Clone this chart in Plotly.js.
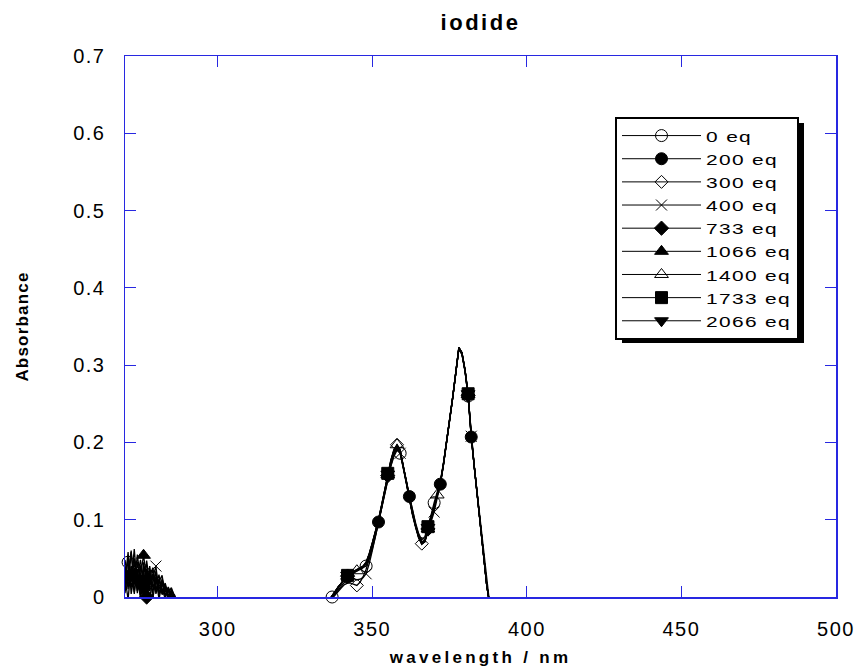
<!DOCTYPE html>
<html>
<head>
<meta charset="utf-8">
<script src="https://cdn.plot.ly/plotly-3.0.1.min.js"></script>
<style>
  html, body { margin: 0; padding: 0; background: #ffffff; }
  #chart { width: 858px; height: 668px; position: relative; }
  .legendtext { letter-spacing: 1px; transform: scaleX(1.35); transform-box: fill-box; transform-origin: left center; }
  .xtick text, .ytick text { letter-spacing: 1.5px; }
  .xtitle { letter-spacing: 3.3px; }
  .ytitle { letter-spacing: 1.2px; }
  .gtitle { letter-spacing: 2.5px; }
</style>
</head>
<body>
<div id="chart"></div>
<script>
// ---- data ----
var seriesNames = ["0 eq", "200 eq", "300 eq", "400 eq", "733 eq", "1066 eq", "1400 eq", "1733 eq", "2066 eq"];

// noisy short-wavelength region (nm)
var noiseWl = [270, 271, 272, 273, 274, 275, 276, 277, 278, 279, 280, 281, 282, 283, 284, 285, 286, 287];
var noise0    = [0.030, 0.045, 0.012, 0.038, 0.005, 0.041, 0.020, 0.033, -0.004, 0.028, 0.010, 0.022, 0.004, 0.015, -0.002, 0.010, 0.002, -0.010];
var noise200  = [0.015, 0.052, 0.028, 0.006, 0.046, 0.018, 0.035, 0.002, 0.040, 0.012, 0.026, -0.003, 0.018, 0.006, 0.012, -0.004, 0.003, -0.010];
var noise300  = [0.040, 0.010, 0.058, 0.022, 0.030, -0.002, 0.044, 0.016, 0.030, 0.005, 0.034, 0.010, 0.020, 0.000, 0.009, 0.004, -0.003, -0.010];
var noise400  = [0.005, 0.036, 0.020, 0.062, 0.014, 0.032, 0.008, 0.047, 0.018, 0.025, 0.040, 0.006, 0.015, 0.012, -0.003, 0.008, 0.000, -0.010];
var noise733  = [0.025, -0.003, 0.040, 0.016, 0.055, 0.022, 0.030, 0.000, 0.026, 0.038, 0.004, 0.020, 0.028, 0.002, 0.011, 0.001, -0.002, -0.010];
var noise1066 = [0.048, 0.020, 0.034, 0.050, 0.008, 0.028, 0.054, 0.024, 0.012, 0.036, 0.016, 0.029, 0.003, 0.014, 0.006, 0.012, 0.001, -0.010];
var noise1400 = [0.010, 0.030, 0.060, 0.004, 0.036, 0.012, 0.037, 0.041, 0.008, 0.020, 0.031, 0.002, 0.024, 0.010, 0.002, 0.006, -0.004, -0.010];
var noise1733 = [0.036, 0.014, 0.024, 0.044, 0.026, 0.048, 0.020, 0.010, 0.034, -0.002, 0.022, 0.016, 0.008, 0.018, 0.004, -0.001, 0.002, -0.010];
var noise2066 = [0.020, 0.058, 0.004, 0.030, 0.022, 0.002, 0.010, 0.036, 0.015, 0.030, 0.008, 0.024, 0.010, -0.002, 0.013, 0.003, -0.002, -0.010];

// absorption band region (nm)
var bandWl = [335, 336, 337, 338, 339, 340, 341, 342, 343, 344, 345, 346, 347, 348, 349, 350, 351, 352, 353, 354,
              355, 356, 357, 358, 359, 360, 361, 362, 363, 364, 365, 366, 367, 368, 369, 370, 371, 372, 373, 374,
              375, 376, 377, 378, 379, 380, 381, 382, 383, 384, 385, 386, 387, 388, 389];
var band0    = [-0.010,-0.003,0.000,0.007,0.013,0.018,0.023,0.027,0.030,0.032,0.034,0.036,0.038,0.040,0.050,0.064,0.080,0.096,0.114,0.134,0.152,0.169,0.182,0.190,0.186,0.170,0.151,0.130,0.112,0.096,0.082,0.074,0.078,0.091,0.106,0.122,0.137,0.150,0.173,0.199,0.228,0.258,0.290,0.321,0.314,0.292,0.260,0.207,0.168,0.131,0.093,0.055,0.017,-0.010,-0.020];
var band200  = [-0.010,-0.004,0.000,0.006,0.012,0.017,0.022,0.026,0.029,0.031,0.033,0.035,0.038,0.043,0.053,0.067,0.082,0.097,0.116,0.136,0.155,0.172,0.186,0.194,0.188,0.169,0.150,0.130,0.111,0.094,0.080,0.071,0.074,0.088,0.101,0.116,0.132,0.146,0.171,0.199,0.228,0.258,0.290,0.322,0.315,0.293,0.259,0.207,0.168,0.130,0.092,0.054,0.016,-0.010,-0.020];
var band300  = [-0.012,-0.006,-0.002,0.003,0.008,0.012,0.016,0.018,0.018,0.016,0.015,0.019,0.026,0.036,0.048,0.062,0.078,0.095,0.115,0.136,0.156,0.174,0.189,0.197,0.191,0.171,0.150,0.127,0.108,0.092,0.078,0.069,0.071,0.085,0.099,0.115,0.131,0.147,0.172,0.200,0.229,0.259,0.291,0.323,0.316,0.293,0.260,0.207,0.167,0.129,0.091,0.053,0.015,-0.011,-0.020];
var band400  = [-0.011,-0.005,-0.001,0.004,0.010,0.015,0.019,0.022,0.024,0.024,0.022,0.023,0.025,0.030,0.043,0.060,0.078,0.095,0.114,0.134,0.153,0.170,0.184,0.192,0.186,0.168,0.148,0.126,0.108,0.092,0.078,0.070,0.072,0.084,0.096,0.110,0.128,0.145,0.170,0.198,0.227,0.257,0.289,0.321,0.314,0.292,0.259,0.208,0.168,0.130,0.092,0.054,0.016,-0.010,-0.020];
var band733  = [-0.010,-0.004,0.001,0.007,0.013,0.018,0.023,0.027,0.030,0.032,0.034,0.036,0.039,0.043,0.054,0.068,0.083,0.098,0.117,0.137,0.157,0.174,0.188,0.196,0.190,0.171,0.150,0.128,0.109,0.093,0.079,0.070,0.073,0.088,0.100,0.116,0.132,0.147,0.172,0.199,0.228,0.258,0.290,0.322,0.315,0.293,0.261,0.207,0.168,0.130,0.092,0.054,0.016,-0.010,-0.020];
var band1066 = [-0.010,-0.004,0.001,0.007,0.013,0.018,0.023,0.027,0.030,0.032,0.034,0.036,0.039,0.044,0.055,0.069,0.084,0.099,0.118,0.138,0.158,0.175,0.190,0.197,0.190,0.170,0.149,0.127,0.108,0.092,0.078,0.069,0.072,0.088,0.100,0.116,0.132,0.147,0.171,0.199,0.228,0.258,0.290,0.323,0.316,0.294,0.262,0.208,0.168,0.130,0.092,0.054,0.016,-0.010,-0.020];
var band1400 = [-0.010,-0.004,0.001,0.007,0.013,0.018,0.023,0.027,0.030,0.032,0.034,0.036,0.039,0.044,0.055,0.069,0.084,0.099,0.118,0.139,0.159,0.177,0.191,0.197,0.190,0.170,0.149,0.127,0.108,0.092,0.078,0.069,0.072,0.087,0.100,0.116,0.132,0.147,0.171,0.199,0.228,0.258,0.290,0.323,0.316,0.294,0.262,0.208,0.168,0.130,0.092,0.054,0.016,-0.010,-0.020];
var band1733 = [-0.010,-0.004,0.001,0.007,0.013,0.018,0.023,0.028,0.031,0.033,0.035,0.037,0.040,0.045,0.056,0.070,0.085,0.100,0.119,0.139,0.160,0.177,0.190,0.196,0.189,0.169,0.148,0.126,0.107,0.091,0.077,0.069,0.073,0.091,0.103,0.118,0.133,0.148,0.172,0.199,0.228,0.258,0.290,0.322,0.316,0.294,0.263,0.209,0.169,0.130,0.092,0.054,0.016,-0.010,-0.020];
var band2066 = [-0.010,-0.004,0.001,0.007,0.013,0.018,0.023,0.028,0.031,0.033,0.035,0.037,0.040,0.045,0.056,0.070,0.085,0.100,0.119,0.139,0.159,0.176,0.189,0.195,0.188,0.168,0.147,0.125,0.106,0.090,0.076,0.068,0.072,0.090,0.102,0.117,0.132,0.147,0.171,0.199,0.228,0.258,0.290,0.322,0.316,0.294,0.263,0.209,0.169,0.130,0.092,0.054,0.016,-0.010,-0.020];

// wavelengths at which each curve carries a plotting symbol
var mark0    = [271, 337, 348, 359, 370, 381];
var mark200  = [272, 342, 352, 362, 372, 382];
var mark300  = [274, 345, 358, 366];
var mark400  = [280, 348, 359, 370, 382];
var mark733  = [277, 342, 355, 368, 381];
var mark1066 = [276, 342, 355, 368, 381];
var mark1400 = [276, 345, 358, 371];
var mark1733 = [276, 342, 355, 368, 381];
var mark2066 = [276, 342, 355, 368, 381];

var xTickVals = [300, 350, 400, 450, 500];
var xTickText = ["300", "350", "400", "450", "500"];
var yTickVals = [0, 0.1, 0.2, 0.3, 0.4, 0.5, 0.6, 0.7];
var yTickText = ["0", "0.1", "0.2", "0.3", "0.4", "0.5", "0.6", "0.7"];

// ---- styles ----
var symbols = ["circle-open", "circle", "diamond-open", "x-thin-open", "diamond", "triangle-up", "triangle-up-open", "square", "triangle-down"];
var sizes   = [12, 12, 10, 11, 11, 12, 12, 12, 12];
var noises = [noise0, noise200, noise300, noise400, noise733, noise1066, noise1400, noise1733, noise2066];
var bands  = [band0, band200, band300, band400, band733, band1066, band1400, band1733, band2066];
var marks  = [mark0, mark200, mark300, mark400, mark733, mark1066, mark1400, mark1733, mark2066];

var allWl = noiseWl.concat(bandWl);
var traces = [];

// legend entries
for (var i = 0; i < seriesNames.length; i++) {
  traces.push({
    type: "scatter", mode: "lines+markers", name: seriesNames[i],
    x: [null], y: [null],
    line: {color: "#000000", width: 1},
    marker: {symbol: symbols[i], size: sizes[i], color: "#000000", line: {color: "#000000", width: 1}},
    hoverinfo: "skip"
  });
}
// spectra
for (var i = 0; i < seriesNames.length; i++) {
  traces.push({
    type: "scatter", mode: "lines", name: seriesNames[i], showlegend: false,
    x: allWl, y: noises[i].concat(bands[i]),
    line: {color: "#000000", width: 1.3},
    hoverinfo: "skip"
  });
}
// symbols
var drawOrder = [0, 2, 3, 6, 1, 4, 5, 8, 7];
drawOrder.forEach(function (i) {
  var ys = noises[i].concat(bands[i]);
  var mx = [], my = [];
  marks[i].forEach(function (w) {
    var k = allWl.indexOf(w);
    if (k >= 0) { mx.push(allWl[k]); my.push(ys[k]); }
  });
  traces.push({
    type: "scatter", mode: "markers", name: seriesNames[i], showlegend: false,
    x: mx, y: my, cliponaxis: false,
    marker: {symbol: symbols[i], size: sizes[i], color: "#000000", line: {color: "#000000", width: 1}},
    hoverinfo: "skip"
  });
});

var axisBlue = "rgb(40,40,225)";
var baseFont = "Liberation Sans, Arial, Helvetica, sans-serif";

var layout = {
  width: 858, height: 668,
  paper_bgcolor: "#ffffff", plot_bgcolor: "#ffffff",
  margin: {l: 125, r: 22, t: 56, b: 71, pad: 0},
  font: {family: baseFont, color: "#000000", size: 19},
  title: {
    text: "iodide", font: {family: baseFont, size: 22, weight: "bold", color: "#000000"},
    x: 0.5, xref: "paper", y: 1 - 22 / 668, yref: "container", yanchor: "middle"
  },
  xaxis: {
    range: [270, 500], tickmode: "array", tickvals: xTickVals, ticktext: xTickText,
    ticks: "inside", ticklen: 11, tickwidth: 1, tickcolor: axisBlue,
    showline: true, linecolor: axisBlue, linewidth: 1.5, mirror: "ticks",
    showgrid: false, zeroline: false, ticklabelstandoff: 13,
    tickfont: {family: baseFont, size: 20, color: "#000000"},
    title: {text: "wavelength / nm", font: {family: baseFont, size: 17, weight: "bold", color: "#000000"}, standoff: 12}
  },
  yaxis: {
    range: [0, 0.7], tickmode: "array", tickvals: yTickVals, ticktext: yTickText,
    ticks: "inside", ticklen: 11, tickwidth: 1, tickcolor: axisBlue,
    showline: true, linecolor: axisBlue, linewidth: 1.5, mirror: "ticks",
    showgrid: false, zeroline: false, ticklabelstandoff: 14,
    tickfont: {family: baseFont, size: 20, color: "#000000"},
    title: {text: "Absorbance", font: {family: baseFont, size: 17, weight: "bold", color: "#000000"}, standoff: 40}
  },
  legend: {
    x: (615 - 125) / 711, y: (597 - 117) / 541, xanchor: "left", yanchor: "top",
    bgcolor: "#ffffff", bordercolor: "#000000", borderwidth: 2,
    font: {family: baseFont, size: 15.5, color: "#000000"},
    itemwidth: 79, tracegroupgap: 0
  },
  showlegend: true
};

var gd = document.getElementById("chart");
Plotly.newPlot(gd, traces, layout, {staticPlot: true, displayModeBar: false}).then(function () {
  // drop shadow behind the legend box, sized from the rendered legend
  var bg = gd.querySelector(".legend .bg");
  if (!bg) return;
  var r = bg.getBoundingClientRect();
  var c = gd.getBoundingClientRect();
  var L = 125, T = 56, W = 711, H = 541;
  var left = r.left - c.left, right = r.right - c.left, top = r.top - c.top, bottom = r.bottom - c.top;
  var sx0 = left + 6, sx1 = right + 6, sy0 = top + 5, sy1 = bottom + 4;
  Plotly.relayout(gd, {shapes: [{
    type: "rect", xref: "paper", yref: "paper", layer: "above",
    x0: (sx0 - L) / W, x1: (sx1 - L) / W,
    y0: (T + H - sy1) / H, y1: (T + H - sy0) / H,
    fillcolor: "#000000", line: {width: 0}
  }]});
});
</script>
</body>
</html>
